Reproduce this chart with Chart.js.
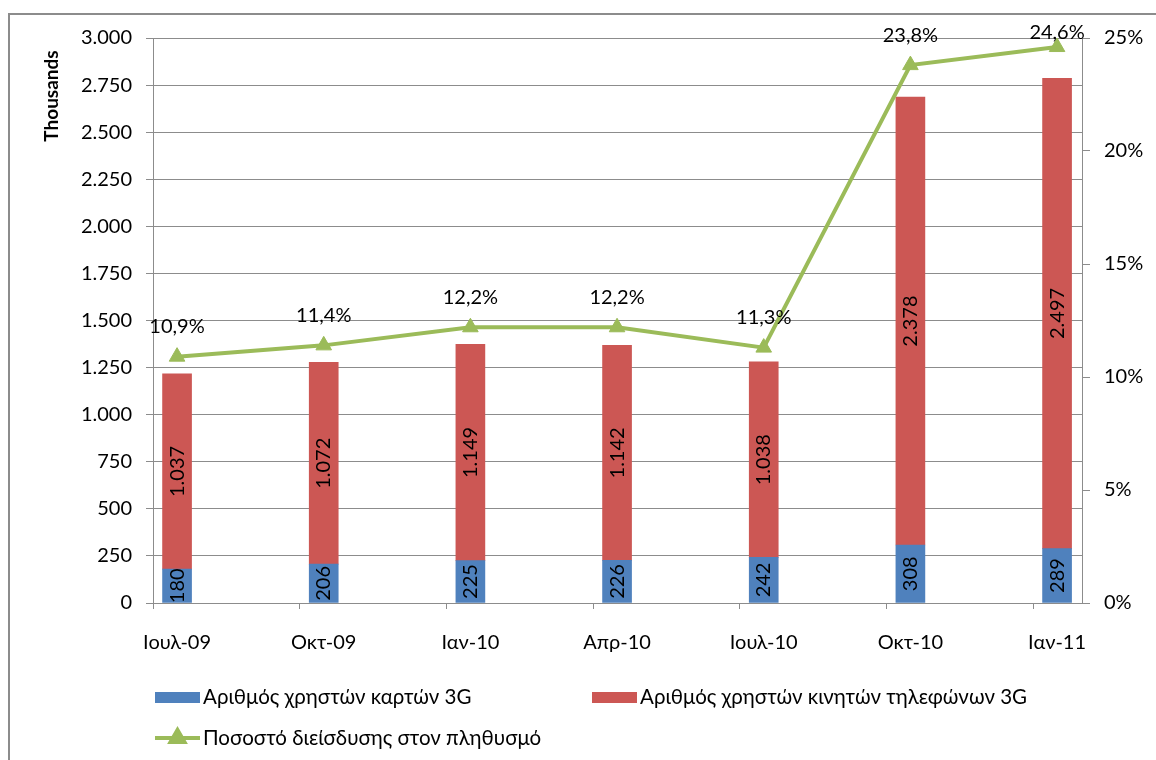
<!DOCTYPE html>
<html>
<head>
<meta charset="utf-8">
<script src="https://cdn.jsdelivr.net/npm/chart.js@4"></script>
<style>
  html, body { margin: 0; padding: 0; background: #fff; }
  #wrap { position: relative; width: 1156px; height: 760px; }
</style>
</head>
<body>
<div id="wrap"><canvas id="myChart" width="1156" height="760"></canvas></div>
<script>
// Δεδομένα
const categories = ['Ιουλ-09', 'Οκτ-09', 'Ιαν-10', 'Απρ-10', 'Ιουλ-10', 'Οκτ-10', 'Ιαν-11'];
const cards3G = [180, 206, 225, 226, 242, 308, 289];
const phones3G = [1037, 1072, 1149, 1142, 1038, 2378, 2497];
const penetration = [10.9, 11.4, 12.2, 12.2, 11.3, 23.8, 24.6];
const leftTicks = [0, 250, 500, 750, 1000, 1250, 1500, 1750, 2000, 2250, 2500, 2750, 3000];
const rightTicks = [0, 5, 10, 15, 20, 25];
const leftTitle = 'Thousands';

const FONT = 'Lato, "Noto Sans", sans-serif';
const GRID = '#8c8c8c';
Chart.defaults.font.family = FONT;
Chart.defaults.color = '#000';

// 1037 -> "1.037", 10.9 -> "10,9%"
const fmtNum = v => String(v).replace(/\B(?=(\d{3})+(?!\d))/g, '.');
const fmtPct = v => v.toFixed(1).replace('.', ',') + '%';

const xMin = -0.164, xMax = 6.17;

// πλαίσιο (αριστερά και πάνω) + τίτλος άξονα
const framePlugin = {
	id: 'frame',
	beforeDraw(chart) {
		const ctx = chart.ctx;
		ctx.save();
		ctx.fillStyle = '#fff';
		ctx.fillRect(0, 0, chart.width, chart.height);
		ctx.strokeStyle = GRID;
		ctx.lineWidth = 2;
		ctx.beginPath();
		ctx.moveTo(9, chart.height);
		ctx.lineTo(9, 14);
		ctx.lineTo(chart.width, 14);
		ctx.stroke();
		// Thousands
		ctx.translate(52, 96);
		ctx.rotate(-Math.PI / 2);
		ctx.fillStyle = '#000';
		ctx.font = 'bold 19px ' + FONT;
		ctx.textAlign = 'center';
		ctx.textBaseline = 'middle';
		ctx.fillText(leftTitle, 0, 0);
		ctx.restore();
	}
};

// ετικέτες τιμών
const valueLabels = {
	id: 'valueLabels',
	afterDatasetsDraw(chart) {
		const ctx = chart.ctx;
		ctx.save();
		ctx.fillStyle = '#000';
		ctx.font = '20px ' + FONT;
		ctx.textAlign = 'center';
		ctx.textBaseline = 'middle';
		chart.data.datasets.forEach((ds, di) => {
			const meta = chart.getDatasetMeta(di);
			meta.data.forEach((el, i) => {
				const v = ds.data[i].y;
				if (ds.type === 'line') {
					const y = Math.max(el.y - 30, chart.chartArea.top - 5);
					ctx.fillText(fmtPct(v), el.x, y);
				} else {
					ctx.save();
					ctx.translate(el.x, (el.y + el.base) / 2);
					ctx.rotate(-Math.PI / 2);
					ctx.fillText(fmtNum(v), 0, 0);
					ctx.restore();
				}
			});
		});
		ctx.restore();
	}
};

// υπόμνημα κάτω
const bottomLegend = {
	id: 'bottomLegend',
	afterDraw(chart) {
		const ctx = chart.ctx;
		const slots = [[155, 697], [592, 697], [155, 738]];
		chart.data.datasets.forEach((ds, i) => {
			const [x, y] = slots[i];
			ctx.save();
			if (ds.type === 'line') {
				ctx.strokeStyle = ds.borderColor;
				ctx.lineWidth = 4;
				ctx.beginPath();
				ctx.moveTo(x, y);
				ctx.lineTo(x + 45, y);
				ctx.stroke();
				Chart.helpers.drawPoint(ctx, {
					pointStyle: 'triangle', radius: 8, borderWidth: 1
				}, x + 22.5, y);
				ctx.fillStyle = ds.pointBackgroundColor;
				ctx.fill();
			} else {
				ctx.fillStyle = ds.backgroundColor;
				ctx.fillRect(x, y - 5, 45, 11);
			}
			ctx.fillStyle = '#000';
			ctx.font = '20.5px ' + FONT;
			ctx.textAlign = 'left';
			ctx.textBaseline = 'middle';
			ctx.fillText(ds.label, x + 48, y);
			ctx.restore();
		});
	}
};

const ctx = document.getElementById('myChart').getContext('2d');
const myChart = new Chart(ctx, {
	type: 'bar',
	data: {
		datasets: [{
			type: 'bar',
			label: 'Αριθμός χρηστών καρτών 3G',
			data: cards3G.map((v, i) => ({ x: i, y: v })),
			backgroundColor: '#4f81bd',
			barThickness: 29,
			xAxisID: 'x',
			yAxisID: 'y',
			order: 1
		}, {
			type: 'bar',
			label: 'Αριθμός χρηστών κινητών τηλεφώνων 3G',
			data: phones3G.map((v, i) => ({ x: i, y: v })),
			backgroundColor: '#cc5754',
			barThickness: 29,
			xAxisID: 'x',
			yAxisID: 'y',
			order: 1
		}, {
			type: 'line',
			label: 'Ποσοστό διείσδυσης στον πληθυσμό',
			data: penetration.map((v, i) => ({ x: i, y: v })),
			borderColor: '#9bbb59',
			borderWidth: 4,
			pointStyle: 'triangle',
			pointRadius: 9,
			pointBackgroundColor: '#9bbb59',
			pointBorderColor: '#9bbb59',
			pointBorderWidth: 1,
			tension: 0,
			xAxisID: 'x',
			yAxisID: 'y1',
			order: 0
		}]
	},
	options: {
		responsive: false,
		animation: false,
		layout: { padding: { top: 38, bottom: 107, left: 0, right: 0 } },
		plugins: {
			legend: { display: false },
			tooltip: { enabled: false }
		},
		scales: {
			x: {
				type: 'linear',
				position: 'bottom',
				stacked: true,
				offset: false,
				min: xMin,
				max: xMax,
				weight: 1,
				afterBuildTicks: s => { s.ticks = categories.map((c, i) => ({ value: i })); },
				afterFit: s => { s.height = 50; },
				ticks: {
					callback: v => categories[v],
					font: { size: 20 },
					padding: 20,
					maxRotation: 0,
					autoSkip: false
				},
				grid: { display: false },
				border: { display: false }
			},
			x2: {
				type: 'linear',
				position: 'bottom',
				offset: false,
				min: xMin,
				max: xMax,
				weight: 0,
				afterBuildTicks: s => { s.ticks = categories.map((c, i) => ({ value: i + xMin })); },
				afterFit: s => { s.height = 0; },
				ticks: { display: false },
				grid: { offset: false, drawOnChartArea: false, color: GRID, tickLength: 6 },
				border: { color: GRID }
			},
			y: {
				position: 'left',
				stacked: true,
				min: 0,
				max: 3000,
				afterBuildTicks: s => { s.ticks = leftTicks.map(v => ({ value: v })); },
				afterFit: s => { s.width = 153; },
				ticks: { callback: v => fmtNum(v), font: { size: 20 }, padding: 14 },
				grid: { color: GRID, tickLength: 7 },
				border: { color: GRID }
			},
			y1: {
				position: 'right',
				min: 0,
				max: 25,
				afterBuildTicks: s => { s.ticks = rightTicks.map(v => ({ value: v })); },
				afterFit: s => { s.width = 74; },
				ticks: { callback: v => v + '%', font: { size: 20 }, padding: 14 },
				grid: { drawOnChartArea: false, color: GRID, tickLength: 8 },
				border: { color: GRID }
			}
		}
	},
	plugins: [framePlugin, valueLabels, bottomLegend]
});
</script>
</body>
</html>
